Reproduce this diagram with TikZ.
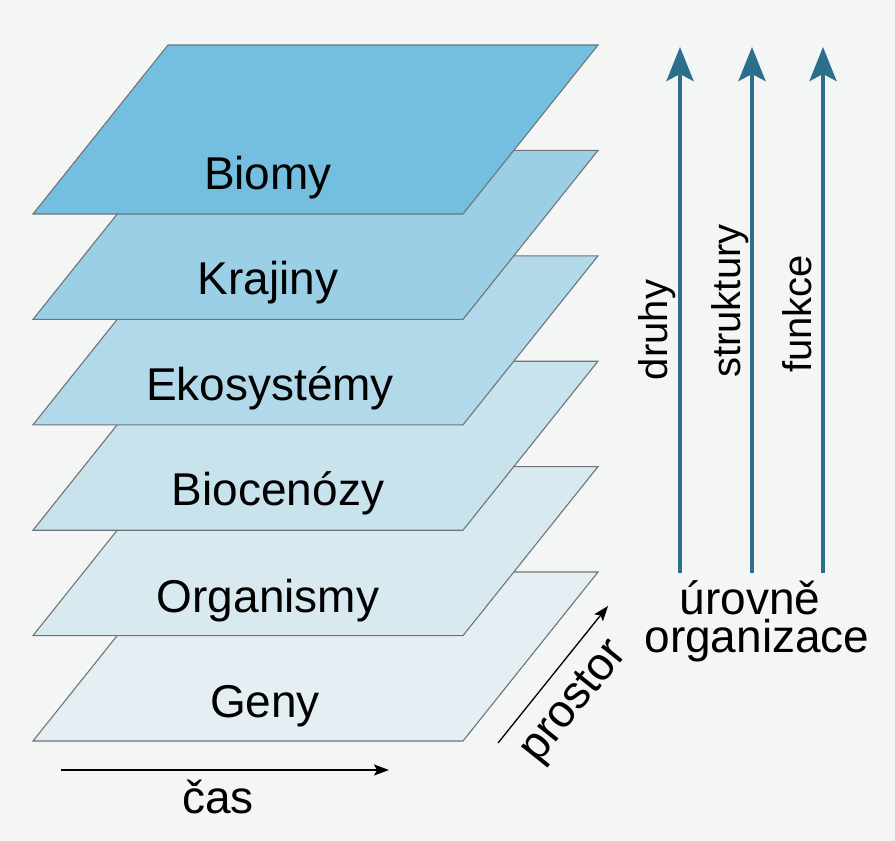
\documentclass[tikz,border=0pt]{standalone}
\usepackage{fontspec}
\setmainfont{Liberation Sans}
\usetikzlibrary{arrows.meta}
\definecolor{bg}{HTML}{F4F5F5}
\definecolor{layA}{HTML}{74BFDF}
\definecolor{layB}{HTML}{9BCFE6}
\definecolor{layC}{HTML}{B2D9EA}
\definecolor{layD}{HTML}{C9E3ED}
\definecolor{layE}{HTML}{D9E9F0}
\definecolor{layF}{HTML}{E5EFF3}
\definecolor{laygray}{HTML}{6E7478}
\definecolor{arrowblue}{HTML}{2D6E8C}
\begin{document}
\begin{tikzpicture}[x=1pt,y=-1pt,
  layer/.style={draw=laygray, line width=1.1pt, line join=miter},
  lbl/.style={font=\fontsize{46}{46}\selectfont, anchor=base, inner sep=0pt},
  vlbl/.style={font=\fontsize{40}{40}\selectfont, anchor=base, rotate=90, inner sep=0pt},
  bluearrow/.style={draw=arrowblue, line width=4pt, -{Stealth[width=27pt,length=34pt,inset=7pt]}},
  axisarrow/.style={draw=black, line width=1.3pt, -{Stealth[width=11pt,length=15pt,inset=3pt]}}]
\fill[bg] (0,0) rectangle (895,841);
\useasboundingbox (0,0) rectangle (895,841);
% layers, bottom first
\foreach \i/\c in {5/layF,4/layE,3/layD,2/layC,1/layB,0/layA}{
  \pgfmathsetmacro\t{45+105.4*\i}
  \filldraw[layer, fill=\c] (168,\t) -- (598,\t) -- (463,\t+169) -- (33,\t+169) -- cycle;
}
\node[lbl] (biomy) at (268,189) {Biomy};
\node[lbl] (krajiny) at (268,294) {Krajiny};
\node[lbl] (eko) at (270,400) {Ekosystémy};
\node[lbl] (bioc) at (278,505) {Biocenózy};
\node[lbl] (org) at (268,612) {Organismy};
\node[lbl] (geny) at (265,717) {Geny};
% time axis
\coordinate (casA) at (61,770);
\coordinate (casB) at (389,770);
\draw[axisarrow] (casA) -- (casB);
\node[lbl] (cas) at (218,813) {čas};
% space axis
\coordinate (prA) at (498,743);
\coordinate (prB) at (608,606);
\draw[axisarrow] (prA) -- (prB);
\node[lbl, rotate=51.3] (prostor) at (583,709) {prostor};
% blue arrows
\coordinate (a1b) at (680,573); \coordinate (a1t) at (680,47);
\coordinate (a2b) at (752,573); \coordinate (a2t) at (752,47);
\coordinate (a3b) at (823,573); \coordinate (a3t) at (823,47);
\draw[bluearrow] (a1b) -- (a1t);
\draw[bluearrow] (a2b) -- (a2t);
\draw[bluearrow] (a3b) -- (a3t);
\node[vlbl] (druhy) at (667,330) {druhy};
\node[vlbl] (struktury) at (740,301) {struktury};
\node[vlbl] (funkce) at (811,314) {funkce};
\node[lbl] (urovne) at (750,614) {úrovně};
\node[lbl] (organizace) at (757,652) {organizace};
\end{tikzpicture}
\end{document}
